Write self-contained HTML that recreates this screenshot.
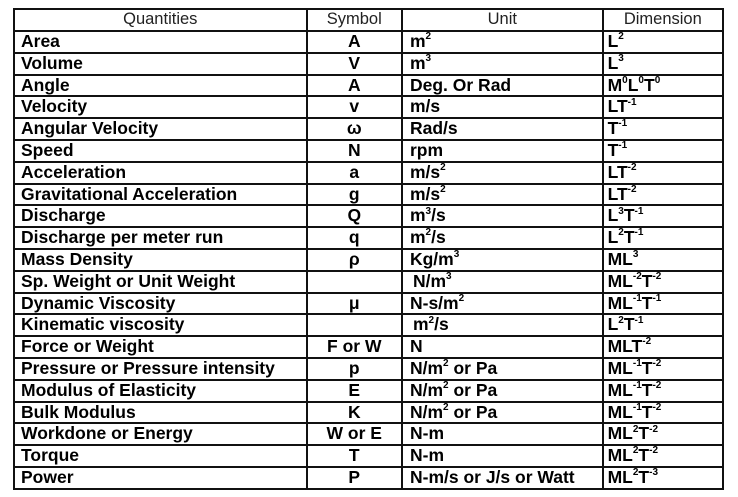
<!DOCTYPE html>
<html><head><style>
html,body{margin:0;padding:0;background:#fff;}
body{width:738px;height:497px;overflow:hidden;position:relative;}
table{position:absolute;left:13px;top:8px;width:711px;border-collapse:collapse;font-family:"Liberation Sans",Arial,sans-serif;color:#000;}
td{border:2px solid #111;padding:0 0 0 6px;height:19.8px;line-height:18px;font-size:17.5px;font-weight:bold;white-space:nowrap;vertical-align:top;overflow:hidden;}
tr.h td{font-weight:normal;font-size:16.5px;text-align:center;height:20px;line-height:19px;padding:0;color:#222;}
td.s{text-align:center;padding:0;}
td.u{padding-left:7px;}
td.d{padding-left:4px;}
sup{font-size:10px;line-height:0;position:relative;top:-1px;vertical-align:super;}
</style></head><body>
<table>
<colgroup><col style="width:293px"><col style="width:96px"><col style="width:201px"><col style="width:121px"></colgroup>
<tr class="h"><td>Quantities</td><td>Symbol</td><td>Unit</td><td>Dimension</td></tr>
<tr><td>Area</td><td class="s">A</td><td class="u">m<sup>2</sup></td><td class="d">L<sup>2</sup></td></tr>
<tr><td>Volume</td><td class="s">V</td><td class="u">m<sup>3</sup></td><td class="d">L<sup>3</sup></td></tr>
<tr><td>Angle</td><td class="s">A</td><td class="u">Deg. Or Rad</td><td class="d">M<sup>0</sup>L<sup>0</sup>T<sup>0</sup></td></tr>
<tr><td>Velocity</td><td class="s">v</td><td class="u">m/s</td><td class="d">LT<sup>-1</sup></td></tr>
<tr><td>Angular Velocity</td><td class="s">ω</td><td class="u">Rad/s</td><td class="d">T<sup>-1</sup></td></tr>
<tr><td>Speed</td><td class="s">N</td><td class="u">rpm</td><td class="d">T<sup>-1</sup></td></tr>
<tr><td>Acceleration</td><td class="s">a</td><td class="u">m/s<sup>2</sup></td><td class="d">LT<sup>-2</sup></td></tr>
<tr><td>Gravitational Acceleration</td><td class="s">g</td><td class="u">m/s<sup>2</sup></td><td class="d">LT<sup>-2</sup></td></tr>
<tr><td>Discharge</td><td class="s">Q</td><td class="u">m<sup>3</sup>/s</td><td class="d">L<sup>3</sup>T<sup>-1</sup></td></tr>
<tr><td>Discharge per meter run</td><td class="s">q</td><td class="u">m<sup>2</sup>/s</td><td class="d">L<sup>2</sup>T<sup>-1</sup></td></tr>
<tr><td>Mass Density</td><td class="s">ρ</td><td class="u">Kg/m<sup>3</sup></td><td class="d">ML<sup>3</sup></td></tr>
<tr><td>Sp. Weight or Unit Weight</td><td class="s"></td><td class="u" style="padding-left:10px">N/m<sup>3</sup></td><td class="d">ML<sup>-2</sup>T<sup>-2</sup></td></tr>
<tr><td>Dynamic Viscosity</td><td class="s">μ</td><td class="u">N-s/m<sup>2</sup></td><td class="d">ML<sup>-1</sup>T<sup>-1</sup></td></tr>
<tr><td>Kinematic viscosity</td><td class="s"></td><td class="u" style="padding-left:10px">m<sup>2</sup>/s</td><td class="d">L<sup>2</sup>T<sup>-1</sup></td></tr>
<tr><td>Force or Weight</td><td class="s">F or W</td><td class="u">N</td><td class="d">MLT<sup>-2</sup></td></tr>
<tr><td>Pressure or Pressure intensity</td><td class="s">p</td><td class="u">N/m<sup>2</sup> or Pa</td><td class="d">ML<sup>-1</sup>T<sup>-2</sup></td></tr>
<tr><td>Modulus of Elasticity</td><td class="s">E</td><td class="u">N/m<sup>2</sup> or Pa</td><td class="d">ML<sup>-1</sup>T<sup>-2</sup></td></tr>
<tr><td>Bulk Modulus</td><td class="s">K</td><td class="u">N/m<sup>2</sup> or Pa</td><td class="d">ML<sup>-1</sup>T<sup>-2</sup></td></tr>
<tr><td>Workdone or Energy</td><td class="s">W or E</td><td class="u">N-m</td><td class="d">ML<sup>2</sup>T<sup>-2</sup></td></tr>
<tr><td>Torque</td><td class="s">T</td><td class="u">N-m</td><td class="d">ML<sup>2</sup>T<sup>-2</sup></td></tr>
<tr><td>Power</td><td class="s">P</td><td class="u">N-m/s or J/s or Watt</td><td class="d">ML<sup>2</sup>T<sup>-3</sup></td></tr>
</table>
</body></html>
